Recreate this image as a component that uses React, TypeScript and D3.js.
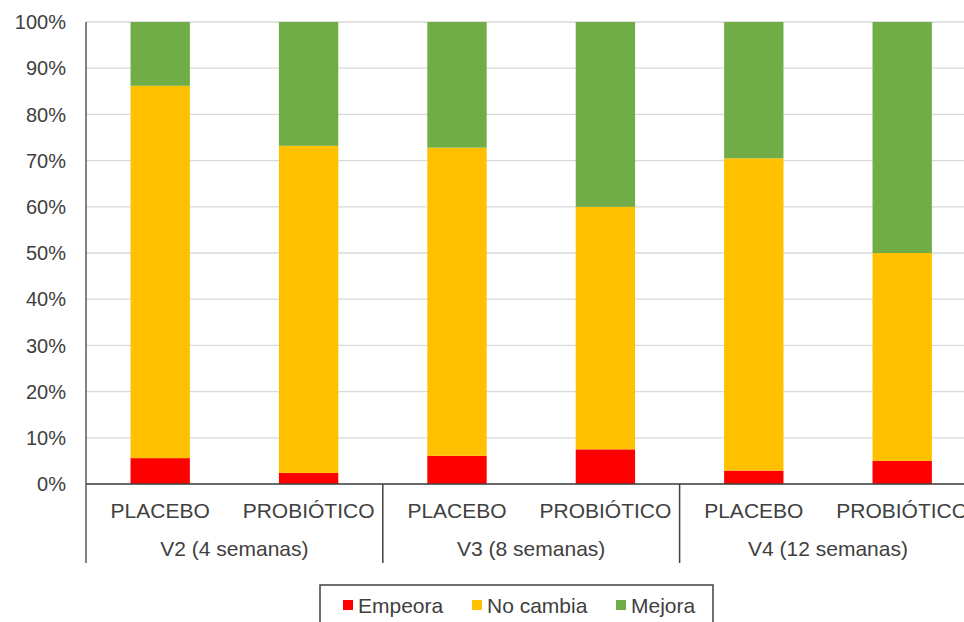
import React from 'react'
import * as d3 from 'd3'

const groups = ['V2 (4 semanas)', 'V3 (8 semanas)', 'V4 (12 semanas)']
const treatments = ['PLACEBO', 'PROBIÓTICO']
const empeora = [5.6, 2.4, 6.1, 7.5, 2.9, 5.0]
const noCambia = [80.6, 70.8, 66.7, 52.5, 67.6, 45.0]
const mejora = [13.8, 26.8, 27.2, 40.0, 29.5, 50.0]
const seriesNames = ['Empeora', 'No cambia', 'Mejora']
const yTicks = [0, 10, 20, 30, 40, 50, 60, 70, 80, 90, 100]

const colors = ['#FF0000', '#FFC000', '#70AD47']
const font = '"Liberation Sans", Arial, sans-serif'
const textColor = '#404040'

const App = () => {
  const width = 964
  const height = 622
  const margin = { top: 22, left: 86, bottom: 138 }
  const step = 148.4

  const rows = groups.flatMap((g, gi) => treatments.map((t, ti) => {
    const i = gi * 2 + ti
    return { key: `${g}-${t}`, group: g, label: t, Empeora: empeora[i], 'No cambia': noCambia[i], Mejora: mejora[i] }
  }))

  const x = d3.scaleBand()
    .domain(rows.map(d => d.key))
    .range([margin.left, margin.left + step * rows.length])
    .paddingInner(0.6)
    .paddingOuter(0.3)

  const y = d3.scaleLinear()
    .domain([0, 100])
    .range([height - margin.bottom, margin.top])

  const stacked = d3.stack().keys(seriesNames)(rows as any)
  const base = y(0)
  const sepBottom = 563
  const center = (k: string) => (x(k) as number) + x.bandwidth() / 2

  // legend placement, tuned to the reference
  const legendItems = [
    { name: 'Empeora', sq: 343, tx: 358 },
    { name: 'No cambia', sq: 472, tx: 487 },
    { name: 'Mejora', sq: 616, tx: 631 }
  ]

  return (
    <svg width={width} height={height} style={{ position: 'absolute', left: 0, top: 0, background: '#fff' }}
      fontFamily={font}>
      {yTicks.map(t => (
        <g key={t}>
          <line x1={margin.left} x2={width} y1={y(t)} y2={y(t)} stroke="#d9d9d9" strokeWidth={1.3} />
          <text x={66} y={y(t)} dy="0.36em" textAnchor="end" fontSize={20} fill={textColor}>{t}%</text>
        </g>
      ))}
      {stacked.map((s, si) => (
        <g key={s.key} fill={colors[si]}>
          {s.map((d, i) => (
            <rect key={i} x={x(rows[i].key)} width={x.bandwidth()} y={y(d[1])} height={y(d[0]) - y(d[1])} />
          ))}
        </g>
      ))}
      <line x1={margin.left} x2={margin.left} y1={margin.top} y2={sepBottom} stroke="#595959" strokeWidth={1.5} />
      <line x1={margin.left} x2={width} y1={base} y2={base} stroke="#404040" strokeWidth={1.5} />
      {groups.map((g, gi) => {
        const x0 = margin.left + gi * 2 * step
        const x1 = x0 + 2 * step
        return (
          <g key={g}>
            <line x1={x1} x2={x1} y1={base} y2={sepBottom} stroke="#404040" strokeWidth={1.5} />
            <text x={(x0 + x1) / 2} y={556} textAnchor="middle" fontSize={21} fill={textColor}>{g}</text>
          </g>
        )
      })}
      {rows.map(r => (
        <text key={r.key} x={center(r.key)} y={518} textAnchor="middle" fontSize={21} fill={textColor}>{r.label}</text>
      ))}
      <rect x={320} y={585} width={393} height={60} fill="#fff" stroke="#404040" strokeWidth={1.5} />
      {legendItems.map((l, i) => (
        <g key={l.name}>
          <rect x={l.sq} y={600} width={10} height={10} fill={colors[i]} />
          <text x={l.tx} y={613} fontSize={21} fill={textColor}>{l.name}</text>
        </g>
      ))}
    </svg>
  )
}

export default App
